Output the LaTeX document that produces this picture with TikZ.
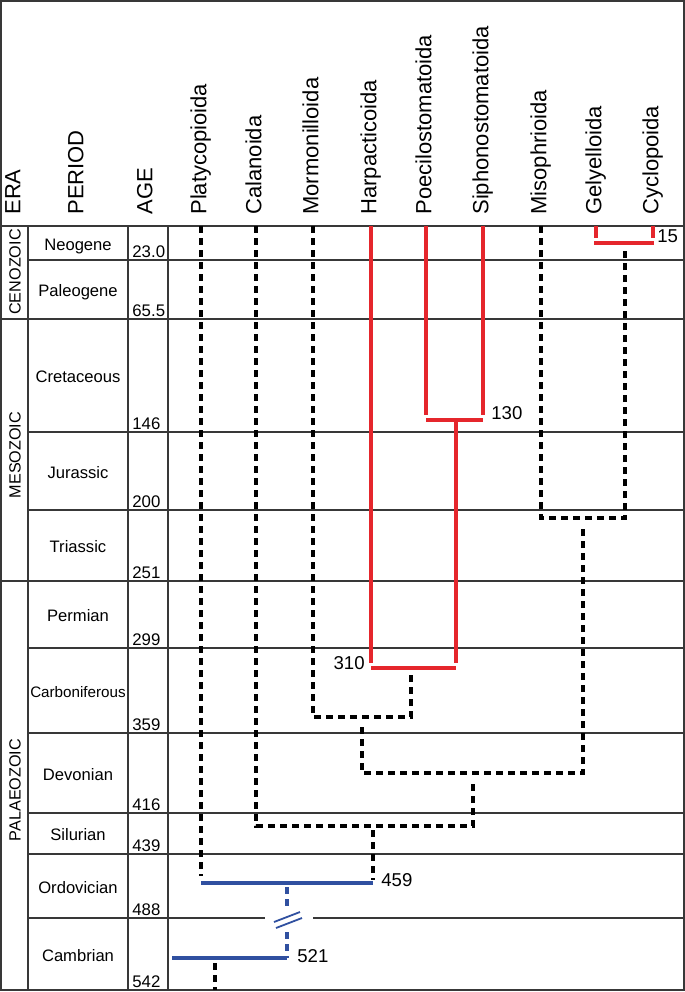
\documentclass[tikz,border=0pt]{standalone}
\usepackage{fontspec}
\setmainfont{Liberation Sans}
\usepackage{tikz}
\usetikzlibrary{calc}
\definecolor{cladered}{RGB}{229,38,44}
\definecolor{cladeblue}{RGB}{48,80,160}

\begin{document}
\begin{tikzpicture}[x=0.5pt,y=-0.5pt,
  grid/.style={draw=black!78,line width=0.9pt},
  taxon/.style={rotate=90,anchor=mid west,inner sep=0pt,font=\fontsize{11}{13}\selectfont},
  era/.style={rotate=90,inner sep=0pt,font=\fontsize{8.1}{10}\selectfont},
  agelbl/.style={anchor=base west,inner sep=0pt,font=\fontsize{8.4}{10}\selectfont},
  datelbl/.style={inner sep=0pt,font=\fontsize{9.3}{11}\selectfont},
  redbr/.style={draw=cladered,line width=1.9pt},
  bluebr/.style={draw=cladeblue,line width=1.9pt},
  dashbr/.style={draw=black,line width=2pt,dash pattern=on 3.6pt off 2.4pt},
  bluedash/.style={draw=cladeblue,line width=1.9pt,dash pattern=on 3.6pt off 2.4pt}]
\useasboundingbox (0,0) rectangle (685,992);
% table
\draw[grid] (1,1) rectangle (684,990);
\draw[grid] (1,226) -- (684,226);
\foreach \x in {28,128,168} \draw[grid] (\x,226) -- (\x,990);
\foreach \y/\xs in {260/28,319/1,432/28,510/28,581/1,648/28,733/28,813/28,854/28} \draw[grid] (\xs,\y) -- (684,\y);
\draw[grid] (28,918) -- (265,918);
\draw[grid] (313,918) -- (684,918);
% header
\node (hera) at (15,215) [taxon] {ERA};
\node (hper) at (78,215) [taxon] {PERIOD};
\node (hage) at (147,215) [taxon] {AGE};
\foreach \nm/\x/\txt in {platy/201/Platycopioida,cala/256/Calanoida,mormo/313/Mormonilloida,harpa/371/Harpacticoida,poec/426/Poecilostomatoida,sipho/483/Siphonostomatoida,miso/541/Misophrioida,gely/596/Gelyelloida,cyclo/653/Cyclopoida} {
    \node (\nm) at (\x,215) [taxon] {\txt};
    \coordinate (\nm-t) at (\x,226);
}
% eras, periods, ages
\node (cen) at (15,272) [era] {CENOZOIC};
\node (mes) at (15,455) [era] {MESOZOIC};
\node (pal) at (15,790) [era] {PALAEOZOIC};
\foreach \per/\yt/\yb/\age/\fs in {Neogene/226/260/23.0/8.3,Paleogene/260/319/65.5/8.3,Cretaceous/319/432/146/8.3,Jurassic/432/510/200/8.3,Triassic/510/581/251/8.3,Permian/581/648/299/8.3,Carboniferous/648/733/359/7.6,Devonian/733/813/416/8.3,Silurian/813/854/439/8.3,Ordovician/854/918/488/8.3,Cambrian/918/990/542/8.3} {
    \node (p\yb) at (78,{(\yt+\yb)/2+7}) [anchor=base,inner sep=0pt,font=\fontsize{\fs}{10}\selectfont] {\per};
    \node (a\yb) at (132,\yb-3) [agelbl] {\age};
}
% clade nodes
\coordinate (n15) at (625,243);
\coordinate (n130) at (456,420);
\coordinate (n310) at (411,668);
\coordinate (nMC) at (583,518);
\coordinate (nMo) at (362,717);
\coordinate (nD) at (473,773);
\coordinate (nCa) at (373,826);
\coordinate (n459) at (287,883);
\coordinate (n521) at (215,958);
\coordinate (stem) at (172,958);
\coordinate (root) at (215,990);
\coordinate (brk) at (288,920);
\coordinate (brk-t) at (287,909);
\coordinate (brk-b) at (287,932);
% red clades
\draw[redbr,shorten >=2.5pt] (gely-t) -- (gely-t |- n15);
\draw[redbr,shorten >=2.5pt] (cyclo-t) -- (cyclo-t |- n15);
\draw[redbr] ($(gely-t |- n15)+(-2,0)$) -- ($(cyclo-t |- n15)+(1,0)$);
\draw[redbr,shorten >=2.5pt] (poec-t) -- (poec-t |- n130);
\draw[redbr,shorten >=2.5pt] (sipho-t) -- (sipho-t |- n130);
\draw[redbr] (poec-t |- n130) -- (sipho-t |- n130);
\draw[redbr,shorten >=2.5pt] (n130) -- (n130 |- n310);
\draw[redbr,shorten >=2.5pt] (harpa-t) -- (harpa-t |- n310);
\draw[redbr] (harpa-t |- n310) -- (n130 |- n310);
% dashed branches
\draw[dashbr,shorten >=3.5pt] (miso-t) |- (n15 |- nMC) -- (n15);
\draw[dashbr,shorten >=3.5pt] (mormo-t) |- (nMo) -| (n310);
\draw[dashbr,shorten <=5pt,shorten >=4.5pt] (nMo) |- (nD) -| (nMC);
\draw[dashbr,shorten >=5pt] (cala-t) |- (nCa) -| (nD);
\draw[dashbr,shorten >=3.5pt] (platy-t) -- (platy-t |- n459);
\draw[dashbr,shorten <=2pt,shorten >=1.5pt] (nCa) -- (nCa |- n459);
\draw[dashbr,shorten <=2.5pt] (n521) -- (root);
% blue stem
\draw[bluebr] (platy-t |- n459) -- (nCa |- n459);
\draw[bluedash,shorten <=2pt] (n459) -- (brk-t);
\draw[bluedash] (brk-b) -- (n459 |- n521);
\draw[bluebr] (stem) -- (n459 |- n521);
\draw[cladeblue,line width=0.9pt] ($(brk)+(-14,2)$) -- ($(brk)+(12,-8)$);
\draw[cladeblue,line width=0.9pt] ($(brk)+(-12,8)$) -- ($(brk)+(14,-2)$);
% dates
\node (l15) at (657,236) [datelbl,anchor=west] {15};
\node (l130) at (491,413) [datelbl,anchor=west] {130};
\node (l310) at (365,663) [datelbl,anchor=east] {310};
\node (l459) at (381,880) [datelbl,anchor=west] {459};
\node (l521) at (297,956) [datelbl,anchor=west] {521};
\end{tikzpicture}
\end{document}
